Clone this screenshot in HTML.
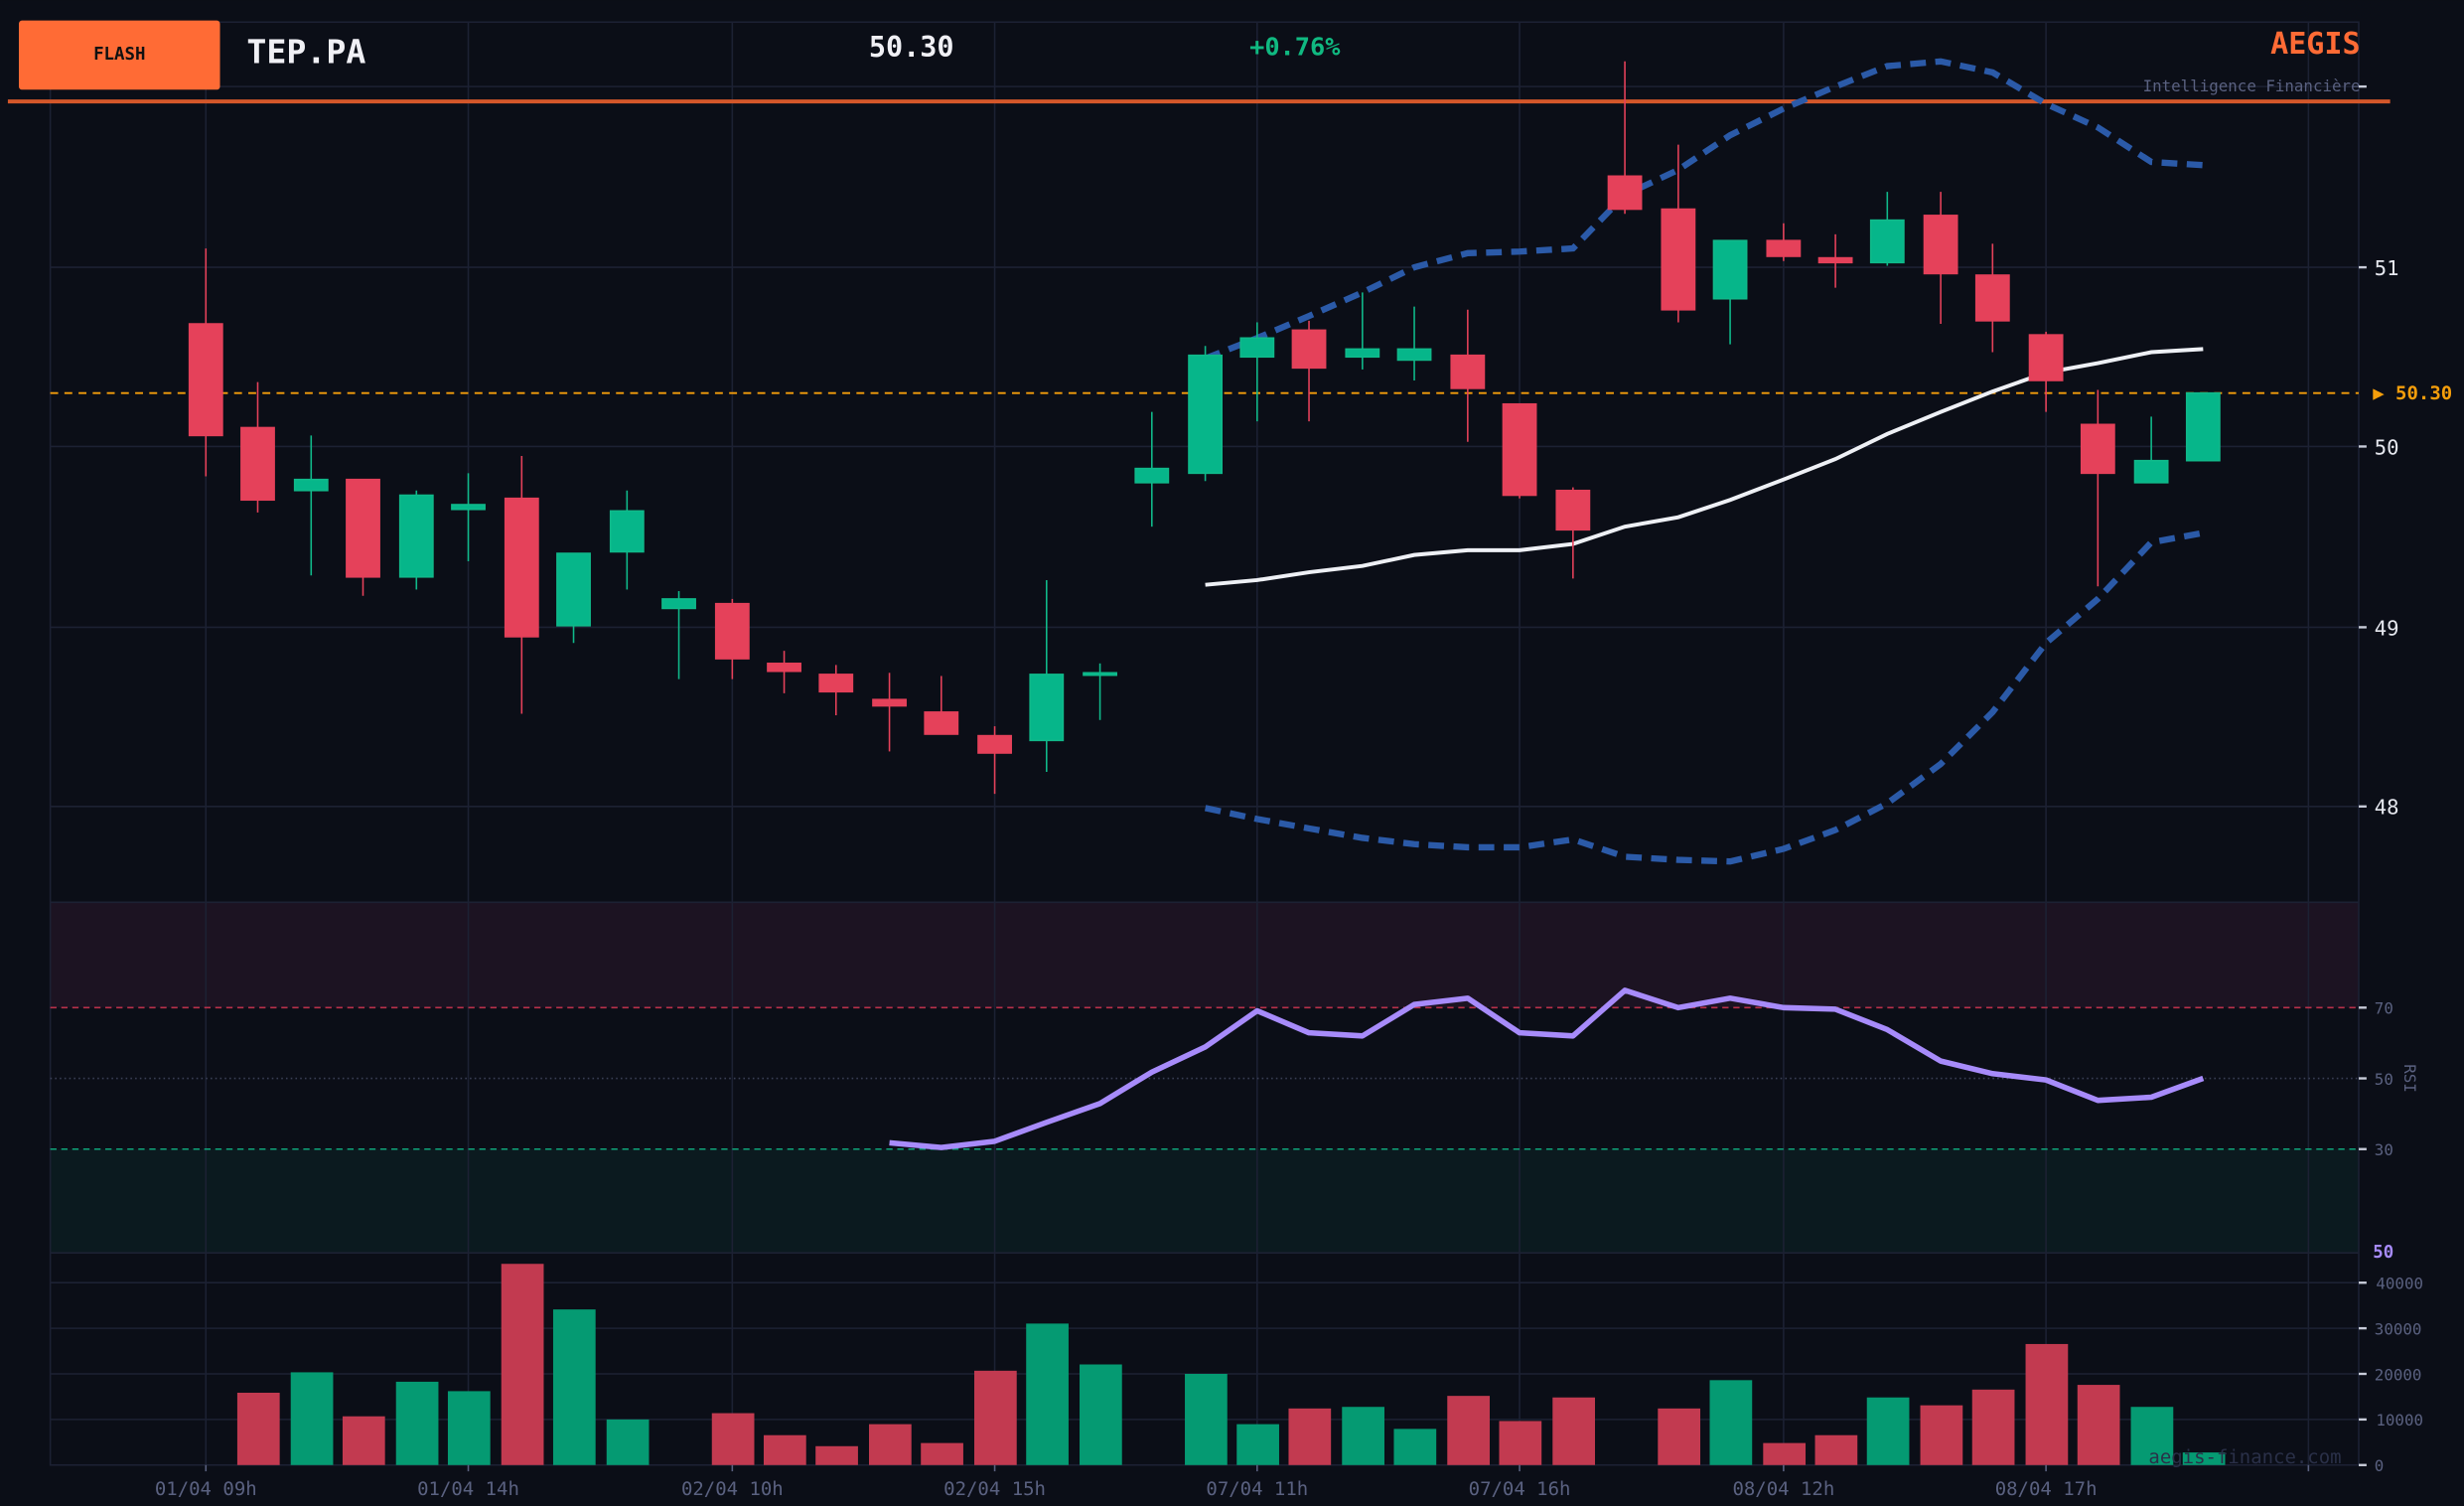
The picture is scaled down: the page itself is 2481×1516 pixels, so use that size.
<!DOCTYPE html>
<html><head><meta charset="utf-8"><style>
html,body{margin:0;padding:0;background:#0b0e17;}
svg{display:block;}
text{font-family:"DejaVu Sans Mono","Liberation Mono",monospace;}
</style></head><body>
<svg width="2481" height="1516" viewBox="0 0 1568 958" xmlns="http://www.w3.org/2000/svg">
<rect width="1568" height="958" fill="#0b0e17"/>
<!-- panels -->
<rect x="32" y="574" width="1469" height="67" fill="#1c1322"/>
<rect x="32" y="731" width="1469" height="66" fill="#0b1a1f"/>
<g stroke="#1c2133" stroke-width="1" fill="none">
<rect x="32" y="14" width="1469" height="918"/>
<line x1="32" y1="55" x2="1501" y2="55"/><line x1="32" y1="170" x2="1501" y2="170"/><line x1="32" y1="284" x2="1501" y2="284"/><line x1="32" y1="399" x2="1501" y2="399"/><line x1="32" y1="513" x2="1501" y2="513"/>
<line x1="32" y1="574" x2="1501" y2="574"/><line x1="32" y1="797" x2="1501" y2="797"/>
<line x1="32" y1="816" x2="1501" y2="816"/><line x1="32" y1="845" x2="1501" y2="845"/><line x1="32" y1="874" x2="1501" y2="874"/><line x1="32" y1="903" x2="1501" y2="903"/>
<line x1="131" y1="14" x2="131" y2="932"/><line x1="298" y1="14" x2="298" y2="932"/><line x1="466" y1="14" x2="466" y2="932"/><line x1="633" y1="14" x2="633" y2="932"/><line x1="800" y1="14" x2="800" y2="932"/><line x1="967" y1="14" x2="967" y2="932"/><line x1="1135" y1="14" x2="1135" y2="932"/><line x1="1302" y1="14" x2="1302" y2="932"/><line x1="1469" y1="14" x2="1469" y2="932"/>
</g>
<line x1="32" y1="641" x2="1501" y2="641" stroke="#b8304a" stroke-width="1" stroke-dasharray="4,3"/>
<line x1="32" y1="686" x2="1501" y2="686" stroke="#3a3f55" stroke-width="1" stroke-dasharray="1,2"/>
<line x1="32" y1="731" x2="1501" y2="731" stroke="#10a37a" stroke-width="1" stroke-dasharray="4,3"/>
<!-- header -->
<rect x="12" y="13" width="128" height="44" rx="2" fill="#ff6b35"/>
<text x="76" y="38" font-size="11" font-weight="bold" fill="#111" text-anchor="middle">FLASH</text>
<text x="157" y="40" font-size="21" font-weight="bold" fill="#f0f0f5">TEP.PA</text>
<text x="580" y="36" font-size="18" font-weight="bold" fill="#f0f0f5" text-anchor="middle">50.30</text>
<text x="824" y="35" font-size="16" font-weight="bold" fill="#10b981" text-anchor="middle">+0.76%</text>
<text x="1502" y="34" font-size="19" font-weight="bold" fill="#ff6b35" text-anchor="end">AEGIS</text>
<text x="1502" y="58" font-size="10" fill="#5a6180" text-anchor="end">Intelligence Financière</text>
<line x1="5" y1="64.5" x2="1521" y2="64.5" stroke="#d4572a" stroke-width="2.5"/>
<!-- volume -->
<g fill="#c23a50">
<rect x="151" y="886" width="27" height="46"/><rect x="218" y="901" width="27" height="31"/><rect x="319" y="804" width="27" height="128"/><rect x="453" y="899" width="27" height="33"/><rect x="486" y="913" width="27" height="19"/><rect x="519" y="920" width="27" height="12"/><rect x="553" y="906" width="27" height="26"/><rect x="586" y="918" width="27" height="14"/><rect x="620" y="872" width="27" height="60"/><rect x="820" y="896" width="27" height="36"/><rect x="921" y="888" width="27" height="44"/><rect x="954" y="904" width="27" height="28"/><rect x="988" y="889" width="27" height="43"/><rect x="1055" y="896" width="27" height="36"/><rect x="1122" y="918" width="27" height="14"/><rect x="1155" y="913" width="27" height="19"/><rect x="1222" y="894" width="27" height="38"/><rect x="1255" y="884" width="27" height="48"/><rect x="1289" y="855" width="27" height="77"/><rect x="1322" y="881" width="27" height="51"/>
</g>
<g fill="#059a72">
<rect x="185" y="873" width="27" height="59"/><rect x="252" y="879" width="27" height="53"/><rect x="285" y="885" width="27" height="47"/><rect x="352" y="833" width="27" height="99"/><rect x="386" y="903" width="27" height="29"/><rect x="653" y="842" width="27" height="90"/><rect x="687" y="868" width="27" height="64"/><rect x="754" y="874" width="27" height="58"/><rect x="787" y="906" width="27" height="26"/><rect x="854" y="895" width="27" height="37"/><rect x="887" y="909" width="27" height="23"/><rect x="1088" y="878" width="27" height="54"/><rect x="1188" y="889" width="27" height="43"/><rect x="1356" y="895" width="27" height="37"/><rect x="1389" y="924" width="27" height="8"/>
</g>
<!-- price line -->
<line x1="32" y1="250" x2="1501" y2="250" stroke="#f59e0b" stroke-width="1.2" stroke-dasharray="5,4"/>
<!-- bands -->
<polyline fill="none" stroke="#2b5aa8" stroke-width="4" stroke-dasharray="10,6" points="767,228 800,215 833,201 867,186 900,170 934,161 967,160 1001,158 1034,124 1068,108 1101,86 1135,69 1168,55 1201,42 1235,39 1268,46 1302,66 1335,81 1369,103 1402,105"/>
<polyline fill="none" stroke="#2b5aa8" stroke-width="4" stroke-dasharray="10,6" points="767,514 800,521 833,527 867,533 900,537 934,539 967,539 1001,534 1034,545 1068,547 1101,548 1135,540 1168,528 1201,511 1235,486 1268,453 1302,409 1335,381 1369,345 1402,339"/>
<polyline fill="none" stroke="#eef0f5" stroke-width="2.5" points="767,372 800,369 833,364 867,360 900,353 934,350 967,350 1001,346 1034,335 1068,329 1101,318 1135,305 1168,292 1201,276 1235,262 1268,249 1302,237 1335,231 1369,224 1402,222"/>
<!-- candles red -->
<g stroke="#e5415a" stroke-width="1" fill="#e5415a">
<line x1="131" y1="158" x2="131" y2="303"/><rect x="120.5" y="206" width="21" height="71"/>
<line x1="164" y1="243" x2="164" y2="326"/><rect x="153.5" y="272" width="21" height="46"/>
<line x1="231" y1="305" x2="231" y2="379"/><rect x="220.5" y="305" width="21" height="62"/>
<line x1="332" y1="290" x2="332" y2="454"/><rect x="321.5" y="317" width="21" height="88"/>
<line x1="466" y1="381" x2="466" y2="432"/><rect x="455.5" y="384" width="21" height="35"/>
<line x1="499" y1="414" x2="499" y2="441"/><rect x="488.5" y="422" width="21" height="5"/>
<line x1="532" y1="423" x2="532" y2="455"/><rect x="521.5" y="429" width="21" height="11"/>
<line x1="566" y1="428" x2="566" y2="478"/><rect x="555.5" y="445" width="21" height="4"/>
<line x1="599" y1="430" x2="599" y2="467"/><rect x="588.5" y="453" width="21" height="14"/>
<line x1="633" y1="462" x2="633" y2="505"/><rect x="622.5" y="468" width="21" height="11"/>
<line x1="833" y1="204" x2="833" y2="268"/><rect x="822.5" y="210" width="21" height="24"/>
<line x1="934" y1="197" x2="934" y2="281"/><rect x="923.5" y="226" width="21" height="21"/>
<line x1="967" y1="257" x2="967" y2="317"/><rect x="956.5" y="257" width="21" height="58"/>
<line x1="1001" y1="310" x2="1001" y2="368"/><rect x="990.5" y="312" width="21" height="25"/>
<line x1="1034" y1="39" x2="1034" y2="136"/><rect x="1023.5" y="112" width="21" height="21"/>
<line x1="1068" y1="92" x2="1068" y2="205"/><rect x="1057.5" y="133" width="21" height="64"/>
<line x1="1135" y1="142" x2="1135" y2="166"/><rect x="1124.5" y="153" width="21" height="10"/>
<line x1="1168" y1="149" x2="1168" y2="183"/><rect x="1157.5" y="164" width="21" height="3"/>
<line x1="1235" y1="122" x2="1235" y2="206"/><rect x="1224.5" y="137" width="21" height="37"/>
<line x1="1268" y1="155" x2="1268" y2="224"/><rect x="1257.5" y="175" width="21" height="29"/>
<line x1="1302" y1="211" x2="1302" y2="262"/><rect x="1291.5" y="213" width="21" height="29"/>
<line x1="1335" y1="248" x2="1335" y2="373"/><rect x="1324.5" y="270" width="21" height="31"/>
</g>
<g stroke="#10b98a" stroke-width="1" fill="#06b68a">
<line x1="198" y1="277" x2="198" y2="366"/><rect x="187.5" y="305" width="21" height="7"/>
<line x1="265" y1="312" x2="265" y2="375"/><rect x="254.5" y="315" width="21" height="52"/>
<line x1="298" y1="301" x2="298" y2="357"/><rect x="287.5" y="321" width="21" height="3"/>
<line x1="365" y1="352" x2="365" y2="409"/><rect x="354.5" y="352" width="21" height="46"/>
<line x1="399" y1="312" x2="399" y2="375"/><rect x="388.5" y="325" width="21" height="26"/>
<line x1="432" y1="376" x2="432" y2="432"/><rect x="421.5" y="381" width="21" height="6"/>
<line x1="666" y1="369" x2="666" y2="491"/><rect x="655.5" y="429" width="21" height="42"/>
<line x1="700" y1="422" x2="700" y2="458"/><rect x="689.5" y="428" width="21" height="1.5"/>
<line x1="733" y1="262" x2="733" y2="335"/><rect x="722.5" y="298" width="21" height="9"/>
<line x1="767" y1="220" x2="767" y2="306"/><rect x="756.5" y="226" width="21" height="75"/>
<line x1="800" y1="205" x2="800" y2="268"/><rect x="789.5" y="215" width="21" height="12"/>
<line x1="867" y1="186" x2="867" y2="235"/><rect x="856.5" y="222" width="21" height="5"/>
<line x1="900" y1="195" x2="900" y2="242"/><rect x="889.5" y="222" width="21" height="7"/>
<line x1="1101" y1="153" x2="1101" y2="219"/><rect x="1090.5" y="153" width="21" height="37"/>
<line x1="1201" y1="122" x2="1201" y2="169"/><rect x="1190.5" y="140" width="21" height="27"/>
<line x1="1369" y1="265" x2="1369" y2="307"/><rect x="1358.5" y="293" width="21" height="14"/>
<line x1="1402" y1="250" x2="1402" y2="293"/><rect x="1391.5" y="250" width="21" height="43"/>
</g>
<!-- RSI -->
<polyline fill="none" stroke="#a78bfa" stroke-width="3.5" stroke-linejoin="round" points="566,727 599,730 633,726 666,714 700,702 733,682 767,666 800,643 833,657 867,659 900,639 934,635 967,657 1001,659 1034,630 1068,641 1101,635 1135,641 1168,642 1201,655 1235,675 1268,683 1302,687 1335,700 1369,698 1402,686"/>
<!-- right axis ticks -->
<g stroke="#c8ccd8" stroke-width="1.5">
<line x1="1501" y1="55" x2="1506" y2="55"/><line x1="1501" y1="170" x2="1506" y2="170"/><line x1="1501" y1="284" x2="1506" y2="284"/><line x1="1501" y1="399" x2="1506" y2="399"/><line x1="1501" y1="513" x2="1506" y2="513"/>
<line x1="1501" y1="641" x2="1506" y2="641"/><line x1="1501" y1="686" x2="1506" y2="686"/><line x1="1501" y1="731" x2="1506" y2="731"/>
<line x1="1501" y1="816" x2="1506" y2="816"/><line x1="1501" y1="845" x2="1506" y2="845"/><line x1="1501" y1="874" x2="1506" y2="874"/><line x1="1501" y1="903" x2="1506" y2="903"/><line x1="1501" y1="932" x2="1506" y2="932"/>
</g>
<g font-size="13" fill="#e6e8ef">
<text x="1511" y="175">51</text><text x="1511" y="289">50</text><text x="1511" y="404">49</text><text x="1511" y="518">48</text>
</g>
<text x="1510" y="254" font-size="12" font-weight="bold" fill="#f59e0b">▶ 50.30</text>
<g font-size="10" fill="#5a6180">
<text x="1511" y="645">70</text><text x="1511" y="690">50</text><text x="1511" y="735">30</text>
<text x="1512" y="820">40000</text><text x="1511" y="849">30000</text><text x="1511" y="878">20000</text><text x="1512" y="907">10000</text><text x="1511" y="936">0</text>
</g>
<text x="1530" y="686" font-size="10" fill="#5a6180" transform="rotate(90 1530 686)" text-anchor="middle">RSI</text>
<text x="1510" y="800" font-size="11" font-weight="bold" fill="#a78bfa">50</text>
<text x="1490" y="931" font-size="12" fill="#2a3048" text-anchor="end">aegis-finance.com</text>
<!-- x labels -->
<g stroke="#5a6180" stroke-width="1"><line x1="131" y1="932" x2="131" y2="936"/><line x1="298" y1="932" x2="298" y2="936"/><line x1="466" y1="932" x2="466" y2="936"/><line x1="633" y1="932" x2="633" y2="936"/><line x1="800" y1="932" x2="800" y2="936"/><line x1="967" y1="932" x2="967" y2="936"/><line x1="1135" y1="932" x2="1135" y2="936"/><line x1="1302" y1="932" x2="1302" y2="936"/><line x1="1469" y1="932" x2="1469" y2="936"/></g>
<g font-size="12" fill="#5a6180" text-anchor="middle">
<text x="131" y="951">01/04 09h</text><text x="298" y="951">01/04 14h</text><text x="466" y="951">02/04 10h</text><text x="633" y="951">02/04 15h</text><text x="800" y="951">07/04 11h</text><text x="967" y="951">07/04 16h</text><text x="1135" y="951">08/04 12h</text><text x="1302" y="951">08/04 17h</text>
</g>
</svg>
</body></html>
